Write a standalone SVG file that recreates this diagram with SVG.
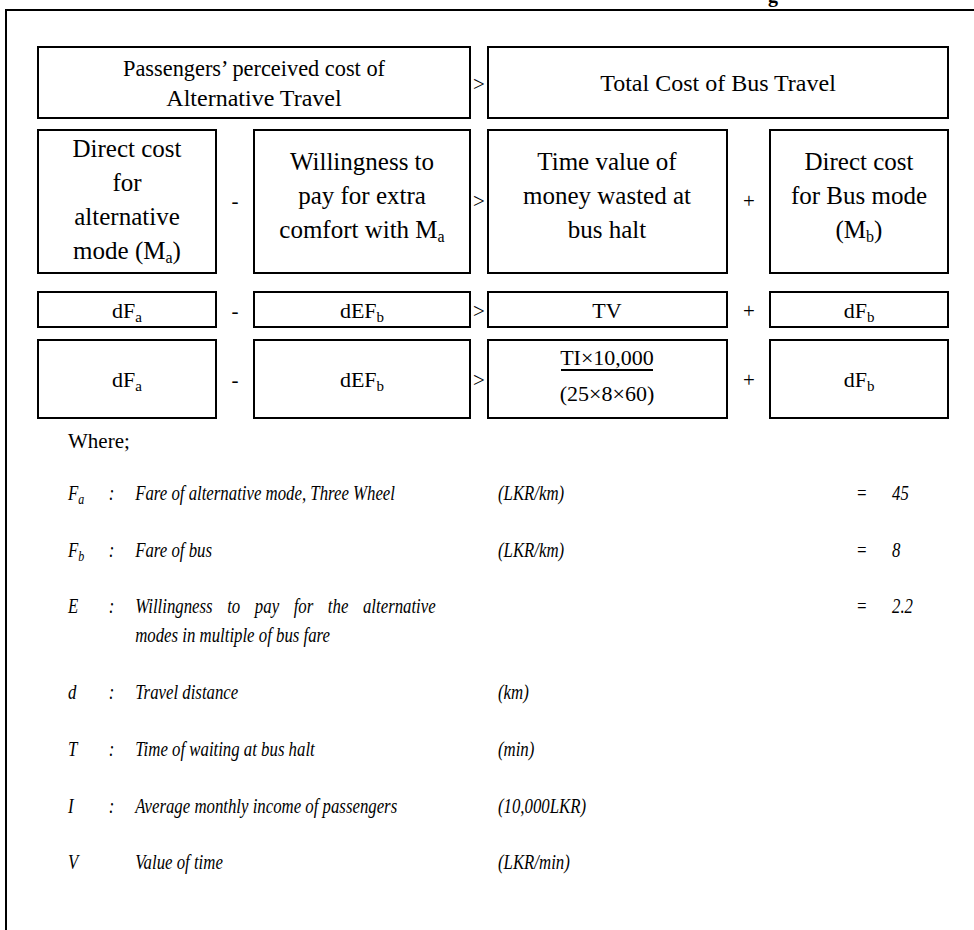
<svg xmlns="http://www.w3.org/2000/svg" width="974" height="930" viewBox="0 0 974 930">
<style>
.box{fill:#fff;stroke:#000;stroke-width:2}
.t{font-family:"Liberation Serif","Times New Roman",serif;fill:#000;text-anchor:middle}
.r1{font-size:24px}
.r2{font-size:25px}
.r3{font-size:22px}
.r4{font-size:22px}
.op{font-family:"Liberation Serif","Times New Roman",serif;font-size:21px;fill:#000;text-anchor:middle}
.l{font-family:"Liberation Serif","Times New Roman",serif;font-size:21px;font-style:italic;fill:#000}
</style>
<rect width="974" height="930" fill="#fff"/>
<text x="768" y="2" style="font-family:'Liberation Serif',serif;font-size:20px;font-weight:bold">g</text>
<path d="M6,930 V10 H974" fill="none" stroke="#000" stroke-width="2"/>

<g id="row1">
<g id="perceived"><rect class="box" x="38" y="47" width="432" height="71"/>
<text class="t r1" x="254" y="76" textLength="262" lengthAdjust="spacingAndGlyphs">Passengers’ perceived cost of</text>
<text class="t r1" x="254" y="106">Alternative Travel</text></g>
<text class="op" x="479" y="91">&gt;</text>
<g id="totalbus"><rect class="box" x="488" y="47" width="460" height="71"/>
<text class="t r1" x="718" y="91">Total Cost of Bus Travel</text></g>
</g>

<g id="row2">
<g id="directA"><rect class="box" x="38" y="130" width="178" height="143"/>
<text class="t r2" x="127" y="157">Direct cost</text>
<text class="t r2" x="127" y="191">for</text>
<text class="t r2" x="127" y="225">alternative</text>
<text class="t r2" x="127" y="259">mode (M<tspan font-size="16" dy="4">a</tspan><tspan dy="-4">)</tspan></text></g>
<text class="op" x="235" y="208">-</text>
<g id="willing"><rect class="box" x="254" y="130" width="216" height="143"/>
<text class="t r2" x="362" y="170">Willingness to</text>
<text class="t r2" x="362" y="204">pay for extra</text>
<text class="t r2" x="362" y="238">comfort with M<tspan font-size="16" dy="4">a</tspan></text></g>
<text class="op" x="479" y="208">&gt;</text>
<g id="timevalue"><rect class="box" x="488" y="130" width="239" height="143"/>
<text class="t r2" x="607" y="170">Time value of</text>
<text class="t r2" x="607" y="204">money wasted at</text>
<text class="t r2" x="607" y="238">bus halt</text></g>
<text class="op" x="749" y="208">+</text>
<g id="directB"><rect class="box" x="770" y="130" width="178" height="143"/>
<text class="t r2" x="859" y="170">Direct cost</text>
<text class="t r2" x="859" y="204">for Bus mode</text>
<text class="t r2" x="859" y="238">(M<tspan font-size="16" dy="4">b</tspan><tspan dy="-4">)</tspan></text></g>
</g>

<g id="row3">
<g id="r3a"><rect class="box" x="38" y="292" width="178" height="35"/>
<text class="t r3" x="127" y="318">dF<tspan font-size="15" dy="4">a</tspan></text></g>
<text class="op" x="235" y="318">-</text>
<g id="r3b"><rect class="box" x="254" y="292" width="216" height="35"/>
<text class="t r3" x="362" y="318">dEF<tspan font-size="15" dy="4">b</tspan></text></g>
<text class="op" x="479" y="318">&gt;</text>
<g id="r3c"><rect class="box" x="488" y="292" width="239" height="35"/>
<text class="t r3" x="607" y="318">TV</text></g>
<text class="op" x="749" y="318">+</text>
<g id="r3d"><rect class="box" x="770" y="292" width="178" height="35"/>
<text class="t r3" x="859" y="318">dF<tspan font-size="15" dy="4">b</tspan></text></g>
</g>

<g id="row4">
<g id="r4a"><rect class="box" x="38" y="340" width="178" height="78"/>
<text class="t r4" x="127" y="387">dF<tspan font-size="15" dy="4">a</tspan></text></g>
<text class="op" x="235" y="387">-</text>
<g id="r4b"><rect class="box" x="254" y="340" width="216" height="78"/>
<text class="t r4" x="362" y="387">dEF<tspan font-size="15" dy="4">b</tspan></text></g>
<text class="op" x="479" y="387">&gt;</text>
<g id="r4c"><rect class="box" x="488" y="340" width="239" height="78"/>
<text class="t r4" x="607" y="365">TI×10,000</text>
<line x1="561" y1="370" x2="653" y2="370" stroke="#000" stroke-width="2"/>
<text class="t r4" x="607" y="401">(25×8×60)</text></g>
<text class="op" x="749" y="387">+</text>
<g id="r4d"><rect class="box" x="770" y="340" width="178" height="78"/>
<text class="t r4" x="859" y="387">dF<tspan font-size="15" dy="4">b</tspan></text></g>
</g>

<g id="legend">
<text class="t" x="68" y="448" style="text-anchor:start;font-size:21px">Where;</text>
<g transform="scale(0.8 1)">
<text class="l" x="85" y="500">F<tspan font-size="15" dy="4">a</tspan></text>
<text class="l" x="136" y="500">:</text>
<text class="l" x="169" y="500">Fare of alternative mode, Three Wheel</text>
<text class="l" x="622.5" y="500">(LKR/km)</text>
<text class="l" x="1070" y="500">=</text>
<text class="l" x="1115" y="500">45</text>

<text class="l" x="85" y="557">F<tspan font-size="15" dy="4">b</tspan></text>
<text class="l" x="136" y="557">:</text>
<text class="l" x="169" y="557">Fare of bus</text>
<text class="l" x="622.5" y="557">(LKR/km)</text>
<text class="l" x="1070" y="557">=</text>
<text class="l" x="1115" y="557">8</text>

<text class="l" x="85" y="613">E</text>
<text class="l" x="136" y="613">:</text>
<text class="l" x="169" y="613" style="word-spacing:13px">Willingness to pay for the alternative</text>
<text class="l" x="169" y="642">modes in multiple of bus fare</text>
<text class="l" x="1070" y="613">=</text>
<text class="l" x="1115" y="613">2.2</text>

<text class="l" x="85" y="699">d</text>
<text class="l" x="136" y="699">:</text>
<text class="l" x="169" y="699">Travel distance</text>
<text class="l" x="622.5" y="699">(km)</text>

<text class="l" x="85" y="756">T</text>
<text class="l" x="136" y="756">:</text>
<text class="l" x="169" y="756">Time of waiting at bus halt</text>
<text class="l" x="622.5" y="756">(min)</text>

<text class="l" x="85" y="813">I</text>
<text class="l" x="136" y="813">:</text>
<text class="l" x="169" y="813">Average monthly income of passengers</text>
<text class="l" x="622.5" y="813">(10,000LKR)</text>

<text class="l" x="85" y="869">V</text>
<text class="l" x="169" y="869">Value of time</text>
<text class="l" x="622.5" y="869">(LKR/min)</text>
</g>
</g>
</svg>
